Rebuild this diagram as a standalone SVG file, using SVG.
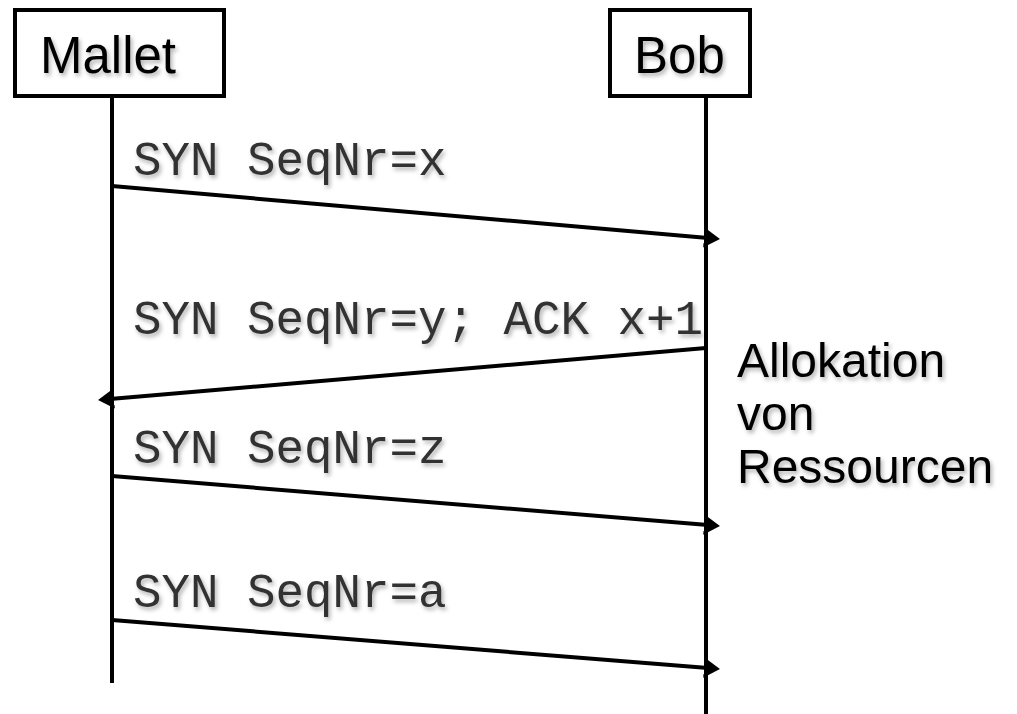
<svg xmlns="http://www.w3.org/2000/svg" width="1017" height="714" viewBox="0 0 1017 714">
<style>
.box{fill:#fff;stroke:#000;stroke-width:4}
.life{stroke:#000;stroke-width:4}
.msg{stroke:#000;stroke-width:4;fill:none}
.lbl{font-family:"Liberation Mono","Courier New",monospace;font-size:47.5px;fill:#333;filter:url(#sh)}
.name{font-family:"Liberation Sans",Arial,sans-serif;font-size:51px;fill:#000;filter:url(#sh)}
.note{font-family:"Liberation Sans",Arial,sans-serif;font-size:48px;fill:#000;filter:url(#sh)}
</style>
<defs>
<filter id="sh" x="-10%" y="-20%" width="120%" height="150%">
<feDropShadow dx="2" dy="3" stdDeviation="2" flood-color="#000" flood-opacity="0.3"/>
</filter>
<marker id="ah" markerWidth="5" markerHeight="5" refX="1" refY="2.5" orient="auto" markerUnits="strokeWidth">
<path d="M0,0 L4,2.5 L0,5 Z" fill="#000"/>
</marker>
</defs>
<rect width="1017" height="714" fill="#fff"/>
<g id="mallet">
<rect class="box" x="15" y="10" width="209" height="86"/>
<text class="name" x="40" y="73">Mallet</text>
<line class="life" x1="112" y1="96" x2="112" y2="683"/>
</g>
<g id="bob">
<rect class="box" x="610" y="10" width="140" height="86"/>
<text class="name" x="634" y="73">Bob</text>
<line class="life" x1="706" y1="96" x2="706" y2="714"/>
</g>
<g id="note">
<text class="note" x="737" y="377">Allokation</text>
<text class="note" x="737" y="430">von</text>
<text class="note" x="737" y="483">Ressourcen</text>
</g>
<g id="connectors">
<line class="msg" x1="112" y1="186" x2="708" y2="238" marker-end="url(#ah)"/>
<line class="msg" x1="706" y1="348" x2="110" y2="399" marker-end="url(#ah)"/>
<line class="msg" x1="112" y1="476" x2="708" y2="525" marker-end="url(#ah)"/>
<line class="msg" x1="112" y1="620" x2="708" y2="668" marker-end="url(#ah)"/>
</g>
<g id="labels">
<text class="lbl" x="133" y="175">SYN SeqNr=x</text>
<text class="lbl" x="133" y="334">SYN SeqNr=y; ACK x+1</text>
<text class="lbl" x="133" y="463">SYN SeqNr=z</text>
<text class="lbl" x="133" y="607">SYN SeqNr=a</text>
</g>
</svg>
